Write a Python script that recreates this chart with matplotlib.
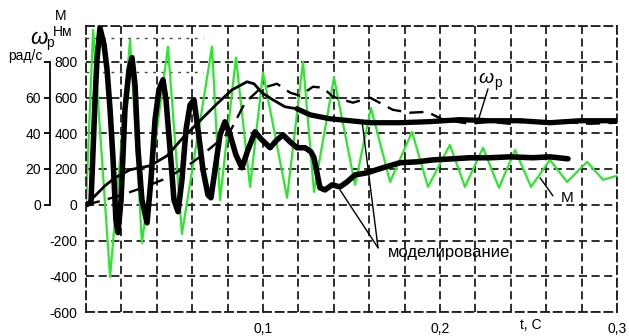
import matplotlib
matplotlib.use("Agg")
import matplotlib.pyplot as plt
import numpy as np

plt.rcParams['font.family'] = ['Liberation Sans', 'DejaVu Sans']
plt.rcParams['axes.unicode_minus'] = False

# ---------------- data ----------------
# green: torque M (Nm), oscillating
t_green = [0, 0.0040, 0.0136, 0.0249, 0.0316, 0.0463, 0.0542, 0.0712, 0.0757, 0.0847,
           0.0927, 0.1000, 0.1136, 0.1226, 0.1288, 0.1401, 0.1520, 0.1610, 0.1718, 0.1842,
           0.1932, 0.2056, 0.2141, 0.2243, 0.2333, 0.2424, 0.2514, 0.2621, 0.2718, 0.2831,
           0.2921, 0.3000]
M_green = [0, 979, -404, 923, -213, 884, -163, 884, 27, 823,
           100, 739, 39, 800, 72, 711, 111, 542, 128, 408,
           100, 335, 100, 319, 95, 307, 100, 251, 128, 240,
           140, 162]

# thick black: torque M (Nm)
t_M = [0, 0.0028, 0.0040, 0.0051, 0.0062, 0.0079, 0.0102, 0.0119, 0.0136, 0.0153,
       0.0169, 0.0181, 0.0198, 0.0220, 0.0243, 0.0260, 0.0277, 0.0294, 0.0316, 0.0345,
       0.0367, 0.0390, 0.0412, 0.0435, 0.0452, 0.0475, 0.0497, 0.0520, 0.0542, 0.0565,
       0.0588, 0.0610, 0.0633, 0.0661, 0.0689, 0.0706, 0.0729, 0.0757, 0.0785, 0.0814,
       0.0847, 0.0881, 0.0915, 0.0955, 0.0994, 0.1040, 0.1079, 0.1113, 0.1153, 0.1192,
       0.1237, 0.1271, 0.1288, 0.1305, 0.1322, 0.1350, 0.1390, 0.1435, 0.1475, 0.1520,
       0.1588, 0.1678, 0.1774, 0.1870, 0.1960, 0.2073, 0.2169, 0.2282, 0.2395, 0.2525,
       0.2621, 0.2723]
M_thick = [0, 11, 307, 587, 811, 990, 895, 755, 531, 251,
           -84, -156, 27, 531, 755, 823, 671, 307, 27, -101,
           139, 475, 643, 699, 587, 307, 27, -39, 139, 419,
           559, 587, 419, 195, 55, 39, 195, 391, 464, 391,
           279, 207, 307, 408, 363, 319, 363, 391, 352, 319,
           319, 296, 263, 179, 95, 83, 111, 100, 128, 167,
           179, 207, 235, 240, 251, 257, 263, 263, 268, 263,
           268, 257]

# solid black: speed omega_p (rad/s)
t_w = [0, 0.0051, 0.0107, 0.0164, 0.0249, 0.0362, 0.0458, 0.0548, 0.0644, 0.0740,
       0.0825, 0.0910, 0.0949, 0.0994, 0.1056, 0.1124, 0.1192, 0.1266, 0.1379, 0.1492,
       0.1605, 0.1774, 0.1944, 0.2113, 0.2282, 0.2452, 0.2621, 0.2791, 0.3000]
w_solid = [0, 5.0, 10.6, 15.1, 19.6, 21.8, 27.4, 37.5, 47.0, 56.5,
           64.3, 68.8, 67.7, 62.7, 58.7, 54.8, 53.7, 50.3, 48.1, 47.0,
           45.9, 45.9, 46.5, 47.6, 47.0, 47.0, 45.9, 47.0, 47.0]

# dashed black: speed omega_p (rad/s)
t_wd = [0, 0.0107, 0.0220, 0.0333, 0.0446, 0.0559, 0.0644, 0.0712, 0.0814, 0.0898,
        0.0983, 0.1079, 0.1153, 0.1209, 0.1282, 0.1339, 0.1395, 0.1508, 0.1605, 0.1734,
        0.1831, 0.1927, 0.2017, 0.2169, 0.2282, 0.2395, 0.2508, 0.2678, 0.2847, 0.3000]
w_dashed = [0, 2.7, 6.1, 10.0, 14.5, 20.7, 26.8, 32.4, 41.0, 57.0,
            64.9, 67.7, 62.7, 61.0, 66.0, 65.5, 60.4, 57.1, 59.9, 53.1,
            51.5, 52.0, 47.6, 45.3, 46.4, 45.3, 47.0, 46.4, 45.3, 45.9]

x_ticks = [0, 0.02, 0.04, 0.06, 0.08, 0.1, 0.12, 0.14, 0.16, 0.18, 0.2, 0.22, 0.24, 0.26, 0.28, 0.3]
x_labels = ['', '', '', '', '', '0,1', '', '', '', '', '0,2', '', '', '', '', '0,3']
M_ticks = [-600, -400, -200, 0, 200, 400, 600, 800, 1000]
M_labels = ['-600', '-400', '-200', '0', '200', '400', '600', '800', '']
w_ticks = [0, 20, 40, 60, 80]
w_labels = ['0', '20', '40', '60', '']
aux_levels = [935, 740]   # faint dotted lines near top-left

# ---------------- figure ----------------
W, H = 629, 336
fig = plt.figure(figsize=(W / 100, H / 100), dpi=100)
rect = [86 / W, 1 - 312 / H, (617 - 86) / W, (312 - 26) / H]
ax = fig.add_axes(rect)
ax.set_xlim(0, 0.3)
ax.set_ylim(-600, 1000)

dash = (0, (4.5, 2.5))
ax.set_xticks(x_ticks)
ax.set_xticklabels(x_labels, fontsize=10)
ax.set_yticks(M_ticks)
ax.set_yticklabels(M_labels, fontsize=10)
ax.tick_params(axis='both', length=0)
ax.tick_params(axis='x', pad=7)
ax.tick_params(axis='y', pad=6)
ax.grid(True, linestyle=dash, color='#1e1e1e', linewidth=1.3)
for s in ax.spines.values():
    s.set_linestyle(dash)
    s.set_color('#1e1e1e')
    s.set_linewidth(1.3)

for lv in aux_levels:
    ax.axhline(lv, xmin=0, xmax=0.22, color='#444444', linestyle=(0, (2, 4)), linewidth=1.0, zorder=1)

ax.plot(t_green, M_green, color='#2ee62e', linewidth=1.6, zorder=2, solid_joinstyle='round')
ax.plot(t_M, M_thick, color='black', linewidth=4.0, zorder=4,
        solid_joinstyle='round', solid_capstyle='round')

# omega axis
ax_w = fig.add_axes(rect, sharex=ax)
ax_w.patch.set_visible(False)
ax_w.set_ylim(-60, 100)
ax_w.xaxis.set_visible(False)
for k in ['top', 'right', 'bottom']:
    ax_w.spines[k].set_visible(False)
ax_w.spines['left'].set_position(('outward', 26))
ax_w.spines['left'].set_bounds(0, 80)
ax_w.spines['left'].set_linewidth(1.3)
ax_w.set_yticks(w_ticks)
ax_w.set_yticklabels(w_labels, fontsize=10)
ax_w.tick_params(axis='y', length=4.5, width=1.3, pad=2)

ax_w.plot(t_wd, w_dashed, color='black', linewidth=1.7, linestyle=(0, (6, 3.5)), zorder=3)
ax_w.plot(t_w, w_solid, color='black', linewidth=2.0, zorder=5, solid_joinstyle='round')
ax_w.plot(t_w[16:], w_solid[16:], color='black', linewidth=3.8, zorder=5,
          solid_joinstyle='round', solid_capstyle='round')

# annotations
ax.text(0.1706, -269, 'моделирование', fontsize=12, va='center', ha='left', zorder=6)
ax.annotate('', xy=(0.1435, 83), xytext=(0.165, -241),
            arrowprops=dict(arrowstyle='-', color='black', lw=1.0, shrinkA=0, shrinkB=0))
ax.annotate('', xy=(0.1560, 464), xytext=(0.165, -241),
            arrowprops=dict(arrowstyle='-', color='black', lw=1.0, shrinkA=0, shrinkB=0))

ax.text(0.2685, 38, 'М', fontsize=11, va='center', ha='left', zorder=6)
ax.annotate('', xy=(0.2565, 151), xytext=(0.2638, 50),
            arrowprops=dict(arrowstyle='-', color='black', lw=1.0, shrinkA=0, shrinkB=0))

ax.text(0.2260, 705, 'ω', fontsize=14, style='italic', va='center', ha='center', zorder=6)
ax.text(0.2328, 680, 'р', fontsize=10, va='center', ha='center', zorder=6)
ax.annotate('', xy=(0.2215, 469), xytext=(0.2271, 648),
            arrowprops=dict(arrowstyle='-', color='black', lw=1.0, shrinkA=0, shrinkB=0))

# axis titles
fig.text(61 / W, 1 - 16 / H, 'М', fontsize=10, ha='center', va='center')
fig.text(63 / W, 1 - 32 / H, 'Нм', fontsize=10, ha='center', va='center')
fig.text(39 / W, 1 - 38 / H, 'ω', fontsize=16, style='italic', ha='center', va='center')
fig.text(50 / W, 1 - 43 / H, 'р', fontsize=10, ha='center', va='center')
fig.text(25 / W, 1 - 56 / H, 'рад/с', fontsize=10, ha='center', va='center')
fig.text(531 / W, 1 - 325 / H, 't, C', fontsize=10, ha='center', va='center')

fig.savefig('out.png', dpi=100)
